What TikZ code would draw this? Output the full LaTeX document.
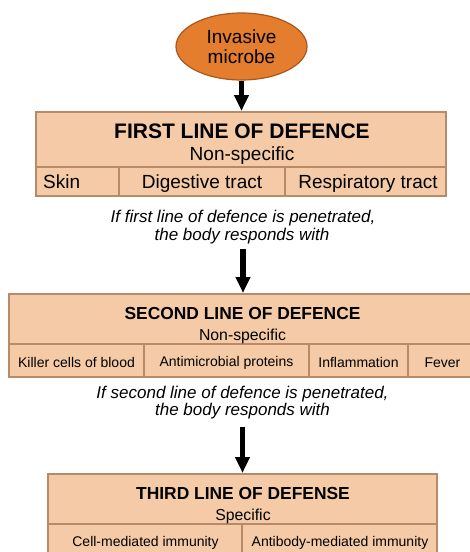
\documentclass[tikz,border=0pt]{standalone}
\usepackage{fontspec}
\setmainfont{Liberation Sans}
\usetikzlibrary{arrows.meta,shapes.geometric}
\definecolor{peach}{HTML}{F5CAA6}
\definecolor{bord}{HTML}{B98A68}
\definecolor{orng}{HTML}{E47D2D}
\definecolor{orngb}{HTML}{A8581E}
\begin{document}
\begin{tikzpicture}[x=1pt,y=-1pt,
  box/.style={draw=bord, fill=peach, line width=2pt, rectangle, inner sep=0pt},
  lbl/.style={anchor=base, inner sep=0pt},
  arr/.style={line width=5.5pt, -{Triangle[width=14pt,length=16pt]}, black},
  fa/.style={font=\fontsize{21}{24}\selectfont\bfseries},
  fb/.style={font=\fontsize{19}{22}\selectfont},
  fc/.style={font=\fontsize{17.4}{20}\selectfont\bfseries},
  fd/.style={font=\fontsize{15.8}{18}\selectfont},
  fe/.style={font=\fontsize{14}{16}\selectfont},
  fi/.style={font=\fontsize{17}{20}\selectfont\itshape},
]
\useasboundingbox (0,0) rectangle (470,552);
\clip (0,0) rectangle (470,552);

% microbe
\node[ellipse, draw=orngb, fill=orng, line width=1.2pt, minimum width=131pt, minimum height=67pt, inner sep=0pt] (mic) at (241.5,46.5) {};
\node[lbl, fb] (mic1) at (241.5,43.3) {Invasive};
\node[lbl, fb] (mic2) at (241.5,63.3) {microbe};

% first line
\node[box, minimum width=410pt, minimum height=55pt] (b1) at (241,139.5) {};
\node[box, minimum width=83pt, minimum height=29pt] (c11) at (77.5,181.5) {};
\node[box, minimum width=166pt, minimum height=29pt] (c12) at (202,181.5) {};
\node[box, minimum width=161pt, minimum height=29pt] (c13) at (365.5,181.5) {};
\node[lbl, fa] (t1) at (242,138.5) {FIRST LINE OF DEFENCE};
\node[lbl, fb] (s1) at (242,160.5) {Non-specific};
\node[lbl, fb, anchor=base west] (r11) at (43,188) {Skin};
\node[lbl, fb] (r12) at (202,188) {Digestive tract};
\node[lbl, fb] (r13) at (368,188) {Respiratory tract};

\node[lbl, fi] (i11) at (243,222.7) {If first line of defence is penetrated,};
\node[lbl, fi] (i12) at (242,240) {the body responds with};

% second line
\node[box, minimum width=468pt, minimum height=50pt] (b2) at (243,319) {};
\node[box, minimum width=135pt, minimum height=33pt] (c21) at (76.5,360.5) {};
\node[box, minimum width=165pt, minimum height=33pt] (c22) at (226.5,360.5) {};
\node[box, minimum width=99pt, minimum height=33pt] (c23) at (358.5,360.5) {};
\node[box, minimum width=69pt, minimum height=33pt] (c24) at (442.5,360.5) {};
\node[lbl, fc] (t2) at (242.5,319.3) {SECOND LINE OF DEFENCE};
\node[lbl, fd] (s2) at (242.5,340.7) {Non-specific};
\node[lbl, fe] (r21) at (76.5,367) {Killer cells of blood};
\node[lbl, fe] (r22) at (226.5,366) {Antimicrobial proteins};
\node[lbl, fe] (r23) at (358.5,367) {Inflammation};
\node[lbl, fe] (r24) at (442.5,367) {Fever};

\node[lbl, fi] (i21) at (242.5,398.3) {If second line of defence is penetrated,};
\node[lbl, fi] (i22) at (242.5,415) {the body responds with};

% third line
\node[box, minimum width=389pt, minimum height=50pt] (b3) at (242.5,499) {};
\node[box, minimum width=194pt, minimum height=32pt] (c31) at (145,540) {};
\node[box, minimum width=195pt, minimum height=32pt] (c32) at (339.5,540) {};
\node[lbl, fc] (t3) at (243,499) {THIRD LINE OF DEFENSE};
\node[lbl, fd] (s3) at (243,520) {Specific};
\node[lbl, fe] (r31) at (145.5,546) {Cell-mediated immunity};
\node[lbl, fe] (r32) at (340,546) {Antibody-mediated immunity};

% arrows
\draw[arr] (mic.south) -- (mic.south |- b1.north);
\draw[arr, shorten <=5.5pt] (i12.south -| b2.north) -- (b2.north);
\draw[arr, shorten <=8.5pt] (i22.south -| b3.north) -- (b3.north);
\end{tikzpicture}
\end{document}
